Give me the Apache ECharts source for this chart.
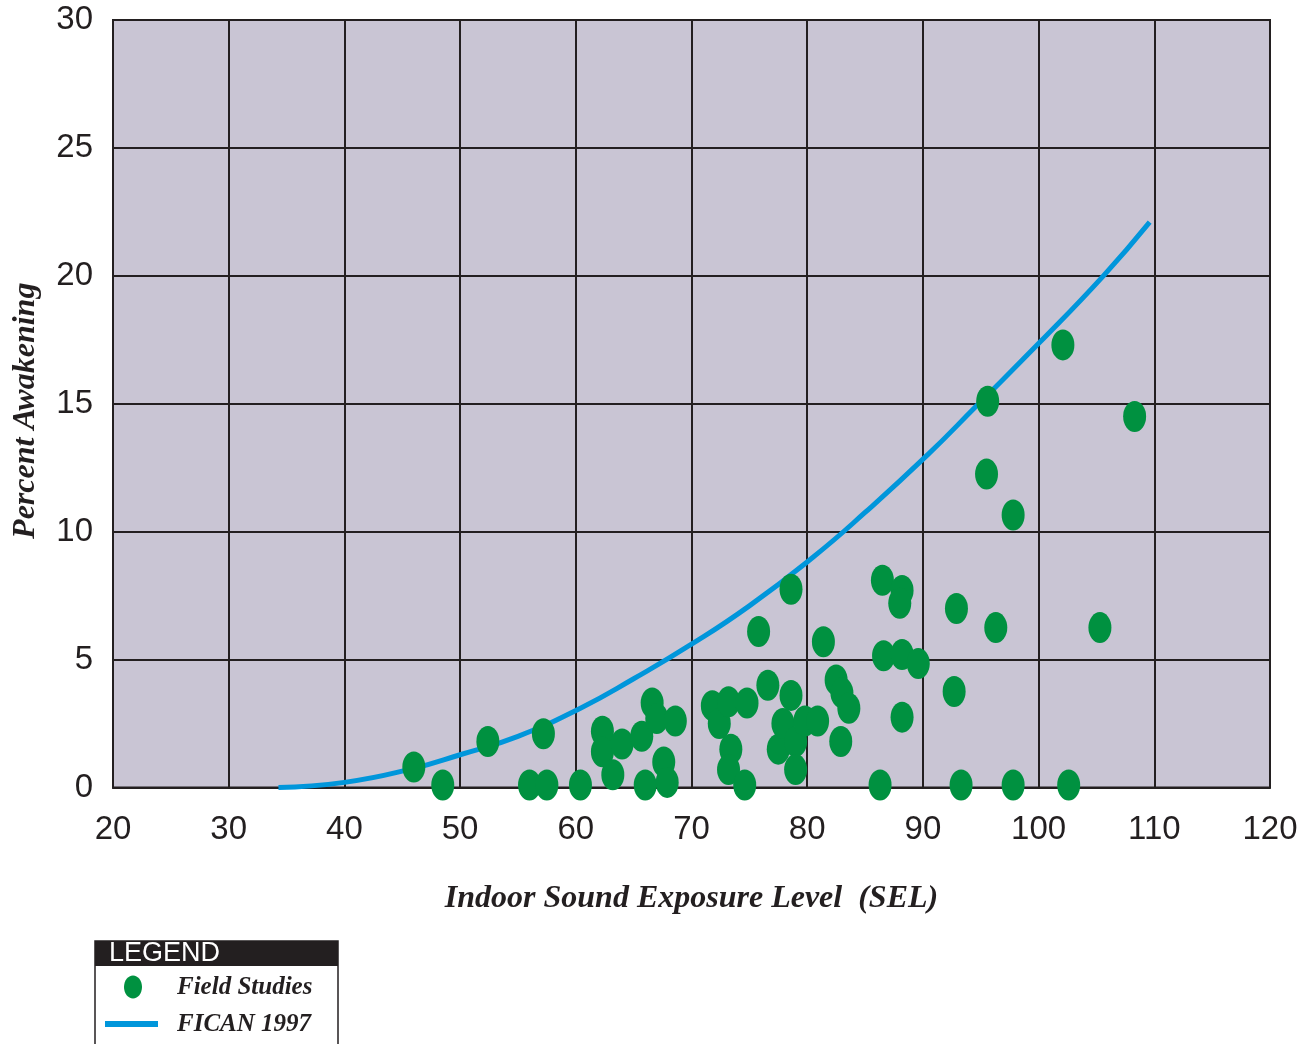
<!DOCTYPE html>
<html>
<head>
<meta charset="utf-8">
<script src="https://cdn.jsdelivr.net/npm/echarts@6/dist/echarts.min.js"></script>
<style>
  html, body { margin: 0; padding: 0; background: #fff; }
  #chart { width: 1312px; height: 1044px; }
</style>
</head>
<body>
<div id="chart"></div>
<script>
// field study points
var fieldSEL = [46.0, 48.5, 52.4, 56.0, 57.2, 57.5, 60.4, 62.3, 62.3, 63.2,
                64.0, 65.7, 66.0, 66.6, 67.0, 67.6, 67.9, 68.6, 71.8, 72.4,
                73.2, 73.4, 73.2, 74.6, 74.8, 75.8, 76.6, 77.5, 77.9, 78.6,
                78.6, 79.0, 79.0, 79.8, 80.9, 81.4, 82.5, 83.0, 83.6, 82.9,
                86.3, 86.5, 86.6, 88.2, 88.0, 88.2, 88.2, 89.6, 92.7, 92.9,
                93.3, 95.6, 95.5, 96.3, 97.8, 97.8, 102.1, 102.6, 105.3, 108.3];
var fieldPct = [0.8, 0.1, 1.8, 0.1, 2.1, 0.1, 0.1, 2.2, 1.4, 0.5,
                1.7, 2.0, 0.1, 3.3, 2.7, 1.0, 0.2, 2.6, 3.2, 2.5,
                3.35, 1.5, 0.7, 0.1, 3.3, 6.1, 4.0, 1.5, 2.5, 3.6,
                7.75, 1.8, 0.7, 2.6, 2.6, 5.7, 4.2, 3.7, 3.1, 1.8,
                0.1, 8.1, 5.15, 7.7, 7.2, 5.2, 2.75, 4.85, 3.75, 7.0,
                0.1, 15.1, 12.25, 6.25, 10.65, 0.1, 17.3, 0.1, 6.25, 14.5];

// FICAN 1997 curve
var curveSEL = [34.3, 40, 46, 50, 55, 60.4, 65, 70, 75, 80.5,
                85, 90.4, 94.6, 100.1, 105.6, 109.6];
var curvePct = [0, 0.2, 0.75, 1.28, 2.0, 3.1, 4.25, 5.6, 7.1, 9.0,
                10.75, 13.0, 14.9, 17.4, 20.0, 22.1];

var ink = '#231F20';
var green = '#009140';
var blue = '#0096DB';
var serif = '"Liberation Serif", "DejaVu Serif", serif';
var sans = '"Liberation Sans", Arial, sans-serif';

function pairs(xs, ys) {
  var out = [];
  for (var i = 0; i < xs.length; i++) out.push([xs[i], ys[i]]);
  return out;
}

var option = {
  backgroundColor: '#fff',
  animation: false,
  grid: {
    left: 113, right: 42, top: 20, bottom: 256.5,
    outerBoundsMode: 'none',
    containLabel: false,
    show: true,
    backgroundColor: '#C9C5D4',
    borderColor: ink,
    borderWidth: 2
  },
  xAxis: {
    type: 'value',
    min: 20, max: 120, interval: 10,
    name: 'Indoor Sound Exposure Level  (SEL)',
    nameLocation: 'middle',
    nameGap: 95,
    nameTextStyle: { fontFamily: serif, fontStyle: 'italic', fontWeight: 'bold', fontSize: 32, color: ink },
    axisLine: { lineStyle: { color: ink, width: 2 } },
    axisTick: { show: false },
    axisLabel: { fontFamily: sans, fontSize: 33, color: ink, margin: 26 },
    splitLine: { lineStyle: { color: ink, width: 2 } }
  },
  yAxis: {
    type: 'value',
    min: 0, max: 30, interval: 5,
    name: 'Percent Awakening',
    nameLocation: 'middle',
    nameGap: 71,
    nameTextStyle: { fontFamily: serif, fontStyle: 'italic', fontWeight: 'bold', fontSize: 32, color: ink,
                     padding: [0, 14, 0, 0] },
    axisLine: { show: true, lineStyle: { color: ink, width: 2 } },
    axisTick: { show: false },
    axisLabel: { fontFamily: sans, fontSize: 33, color: ink, margin: 20 },
    splitLine: { lineStyle: { color: ink, width: 2 } }
  },
  series: [
    {
      name: 'FICAN 1997',
      type: 'line',
      data: pairs(curveSEL, curvePct),
      smooth: 0.5,
      showSymbol: false,
      lineStyle: { color: blue, width: 5 },
      z: 2
    },
    {
      name: 'Field Studies',
      type: 'scatter',
      data: pairs(fieldSEL, fieldPct),
      symbol: 'circle',
      symbolSize: [23, 31],
      itemStyle: { color: green, opacity: 1 },
      clip: false,
      z: 3
    }
  ],
  graphic: [
    { type: 'rect', shape: { x: 95, y: 941, width: 243, height: 110 },
      style: { fill: '#fff', stroke: ink, lineWidth: 1.5 } },
    { type: 'rect', shape: { x: 95, y: 941, width: 243, height: 25 },
      style: { fill: ink } },
    { type: 'text', x: 109, y: 954,
      style: { text: 'LEGEND', fill: '#fff', font: '27px ' + sans, verticalAlign: 'middle' } },
    { type: 'ellipse', shape: { cx: 133, cy: 987, rx: 9, ry: 11.5 },
      style: { fill: green } },
    { type: 'text', x: 177, y: 988,
      style: { text: 'Field Studies', fill: ink, font: 'italic bold 25px ' + serif, verticalAlign: 'middle' } },
    { type: 'line', shape: { x1: 105, y1: 1024, x2: 158, y2: 1024 },
      style: { stroke: blue, lineWidth: 6 } },
    { type: 'text', x: 177, y: 1025,
      style: { text: 'FICAN 1997', fill: ink, font: 'italic bold 25px ' + serif, verticalAlign: 'middle' } }
  ]
};

var myChart = echarts.init(document.getElementById('chart'));
myChart.setOption(option);
</script>
</body>
</html>
